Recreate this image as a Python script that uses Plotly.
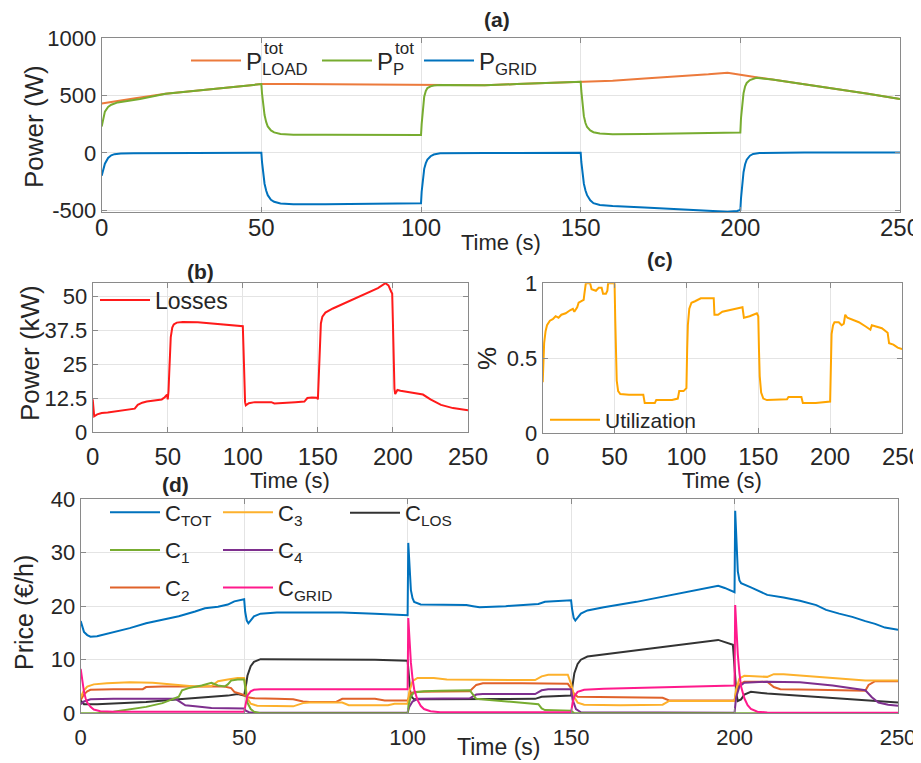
import plotly.graph_objects as go

W, H = 921, 763
OFF = 8  # the page body margin (px) that shifts the figure inside the browser window

# ---------------- data ----------------
X_TICKS = [0, 50, 100, 150, 200, 250]
X_TICK_LABELS = ["0", "50", "100", "150", "200", "250"]

# (a) power balance (W)
P_LOAD = [(0, 430), (2, 440), (5, 455), (10, 475), (20, 515), (30, 545), (40, 572), (50, 600),
          (60, 600), (75, 598), (90, 595), (100, 592), (110, 590), (120, 590), (130, 600),
          (140, 610), (150, 620), (160, 630), (170, 648), (180, 665), (190, 685), (196, 700),
          (200, 685), (205, 660), (210, 640), (220, 600), (230, 560), (240, 515), (250, 470)]
P_P = [(0, 230), (0.5, 300), (1, 360), (2, 400), (3, 420), (5, 440), (8, 452), (12, 470), (20, 515),
       (30, 545), (40, 572), (50, 600), (50.2, 520), (50.6, 400), (51, 330), (51.5, 270), (52, 230),
       (53, 195), (54, 178), (56, 165), (60, 158), (70, 157), (80, 156), (90, 156), (100, 156),
       (100.2, 250), (100.6, 420), (101, 490), (101.5, 540), (102, 565), (103, 580), (104, 588),
       (106, 592), (110, 592), (120, 590), (130, 600), (140, 610), (150, 620), (150.2, 540),
       (150.6, 400), (151, 320), (151.5, 260), (152, 225), (153, 195), (154, 180), (156, 168),
       (160, 162), (170, 165), (180, 170), (190, 174), (200, 178), (200.2, 300), (200.6, 450),
       (201, 520), (201.5, 580), (202, 610), (203, 635), (204, 648), (205, 655), (210, 640),
       (220, 600), (230, 560), (240, 515), (250, 470)]
P_GRID = [(0, -200), (0.5, -140), (1, -95), (2, -45), (3, -22), (4, -12), (6, -6), (10, -3), (20, -2),
          (30, -2), (40, -1), (50, 0), (50.2, -80), (50.6, -200), (51, -270), (51.5, -330), (52, -370),
          (53, -410), (54, -428), (56, -443), (60, -450), (70, -450), (80, -448), (90, -445), (100, -440),
          (100.2, -340), (100.6, -200), (101, -140), (101.5, -90), (102, -60), (103, -30), (104, -15),
          (106, -5), (110, -2), (120, -1), (130, -1), (140, 0), (150, 0), (150.2, -80), (150.6, -200),
          (151, -270), (151.5, -330), (152, -370), (153, -415), (154, -440), (156, -455), (160, -465),
          (170, -478), (180, -490), (190, -503), (196, -515), (199, -508), (200, -500), (200.2, -400),
          (200.6, -250), (201, -170), (201.5, -100), (202, -60), (203, -25), (204, -10), (206, -2),
          (210, 0), (220, 2), (230, 3), (240, 2), (250, 2)]

# (b) losses (kW)
LOSSES = [(0, 12), (0.5, 7), (1, 5.8), (3, 6.5), (6, 7), (10, 7.2), (15, 7.6), (20, 8), (25, 8.4),
          (28, 8.6), (30, 10), (33, 10.8), (36, 11.2), (40, 11.5), (43, 11.6), (46, 12), (48, 12.8),
          (49.5, 13.8), (50, 12), (50.5, 15), (51, 22), (51.5, 30), (52, 35), (53, 38.5), (54, 39.6),
          (56, 40.3), (60, 40.5), (70, 40.4), (80, 40), (90, 39.5), (100, 39), (100.5, 30), (101, 18),
          (101.5, 11), (102, 9.8), (104, 10.6), (108, 11), (115, 11), (119, 11), (121, 10.5),
          (125, 10.7), (135, 11), (141, 11.2), (143, 12.5), (146, 12.7), (149.5, 12.6), (150, 12),
          (150.5, 18), (151, 28), (151.5, 36), (152, 40), (153, 42.5), (155, 44), (160, 45.5),
          (170, 48), (180, 50.5), (190, 53), (195, 54.8), (197, 54), (199, 51.5), (199.5, 51),
          (200, 40), (200.5, 25), (201, 16), (201.5, 14), (202, 14.5), (203, 15.5), (205, 15.2),
          (210, 14.8), (220, 13.8), (225, 12), (232, 10), (240, 8.8), (245, 8.3), (250, 8)]

# (c) utilization (-)
UTIL = [(0, 0.34), (0.5, 0.5), (1, 0.6), (2, 0.68), (3, 0.72), (5, 0.75), (7, 0.76), (9, 0.78),
        (11, 0.77), (13, 0.79), (16, 0.8), (19, 0.82), (21, 0.83), (22, 0.81), (24, 0.84), (25, 0.87),
        (27, 0.88), (28.5, 0.89), (29, 0.93), (30, 1.0), (33, 1.0), (34, 0.96), (37, 0.95), (39, 0.97),
        (41, 0.97), (42, 0.93), (44, 0.93), (45, 0.95), (45.5, 1.0), (50, 1.0), (50.5, 0.75), (51, 0.5),
        (51.5, 0.35), (52.5, 0.28), (54, 0.26), (60, 0.255), (70, 0.255), (71, 0.2), (75, 0.2),
        (78, 0.2), (79, 0.22), (90, 0.22), (94, 0.23), (95, 0.28), (98, 0.28), (100, 0.3),
        (100.5, 0.55), (101, 0.72), (102, 0.83), (103.5, 0.87), (106, 0.88), (110, 0.9), (115, 0.9),
        (119, 0.9), (119.5, 0.79), (122, 0.79), (125, 0.81), (130, 0.82), (135, 0.83), (139, 0.84),
        (140, 0.77), (144, 0.78), (149, 0.8), (150, 0.78), (150.5, 0.55), (151, 0.38), (152, 0.27),
        (153.5, 0.23), (156, 0.22), (165, 0.22), (170, 0.225), (171, 0.24), (180, 0.24), (181, 0.2),
        (190, 0.2), (200, 0.21), (200.5, 0.5), (201, 0.66), (202, 0.72), (203, 0.74), (206, 0.74),
        (208, 0.72), (209.5, 0.73), (210.5, 0.79), (212, 0.77), (215, 0.76), (220, 0.74), (225, 0.71),
        (228, 0.69), (229, 0.72), (232, 0.71), (236, 0.7), (240, 0.67), (241, 0.6), (244, 0.59),
        (247, 0.57), (250, 0.56)]

# (d) prices (EUR/h)
C_TOT = [(0, 17.2), (0.5, 16), (1, 15.2), (2, 14.6), (3, 14.3), (5, 14.4), (10, 15.1), (15, 15.9),
         (20, 16.8), (25, 17.4), (30, 18.1), (35, 19), (38, 19.6), (42, 19.9), (45, 20.3), (47, 20.9),
         (49, 21.2), (50, 21.3), (50.3, 19), (50.8, 17.3), (51.3, 16.8), (52, 17.3), (53, 18.1),
         (55, 18.6), (60, 18.8), (70, 18.8), (80, 18.8), (90, 18.6), (100, 18.3), (100.2, 31.8),
         (100.6, 26), (101, 23), (101.5, 21.5), (102, 20.8), (104, 20.3), (110, 20.2), (118, 20.2),
         (120, 20), (122, 19.8), (130, 20), (140, 20.4), (142, 20.8), (150, 21.1), (150.3, 19.5),
         (150.8, 17.8), (151.3, 17.3), (152, 17.8), (153, 18.6), (155, 19.2), (160, 19.8), (170, 20.8),
         (180, 22), (190, 23.2), (195, 23.8), (197, 23.4), (200, 22.6), (200.2, 37.8), (200.6, 30),
         (201, 26.5), (201.5, 24.8), (202, 24.3), (205, 23.5), (210, 22.1), (215, 21.6), (220, 21),
         (225, 20.2), (228, 19.3), (232, 18.6), (236, 18), (240, 17.2), (243, 16.7), (246, 16),
         (250, 15.6)]
C_1 = [(0, 0), (5, 0), (10, 0.3), (15, 0.7), (20, 1.2), (25, 1.9), (28, 2.6), (30, 3.1), (31, 4.3),
       (33, 4.7), (37, 5.2), (40, 5.7), (42, 5.2), (44, 5.0), (45, 5.4), (46, 6.1), (48, 6.3), (50, 6.3),
       (50.5, 4), (51, 2), (52, 0.8), (53, 0.3), (55, 0), (100, 0), (100.3, 1.5), (101, 3.2), (102, 3.9),
       (105, 4.1), (110, 4.2), (119, 4.3), (120, 3.5), (121, 2.7), (125, 2.5), (130, 2.2), (140, 1.7),
       (141, 0.9), (142, 0.6), (150, 0.5), (151, 0), (250, 0)]
C_2 = [(0, 2.5), (1, 3.5), (2, 4.1), (3, 4.4), (10, 4.5), (19, 4.5), (20, 4.9), (25, 5.0), (35, 5.0),
       (44, 5.0), (46, 4.7), (47, 4.0), (49, 3.6), (50, 3.4), (51, 3.0), (53, 2.8), (60, 2.7), (65, 2.6),
       (68, 2.2), (70, 2.1), (78, 2.1), (80, 2.7), (90, 2.7), (93, 2.4), (100, 2.4), (100.5, 3.2),
       (101, 3.8), (103, 4.0), (110, 4.1), (119, 4.1), (121, 5.3), (123, 5.6), (135, 5.6), (149, 5.5),
       (150, 4.7), (151, 3.5), (152, 3.1), (160, 3.0), (170, 2.9), (178, 2.9), (180, 2.4), (190, 2.4),
       (200, 2.4), (200.5, 4), (201.5, 5.4), (203, 5.9), (210, 5.9), (212, 4.9), (214, 4.5), (225, 4.4),
       (240, 4.2), (241, 5.3), (243, 6.0), (250, 6.0)]
C_3 = [(0, 3.0), (1, 4.3), (2, 5.0), (4, 5.4), (8, 5.6), (15, 5.8), (22, 5.7), (26, 5.5), (30, 5.2),
       (35, 5.0), (40, 5.1), (42, 6.0), (45, 6.3), (48, 6.6), (50, 6.6), (50.5, 4.5), (51, 2.8),
       (52, 1.8), (54, 1.4), (65, 1.3), (68, 1.9), (70, 2.0), (80, 2.0), (82, 1.5), (94, 1.5), (96, 1.8),
       (100, 1.8), (100.5, 4), (101.5, 6), (103, 6.6), (108, 6.6), (112, 6.3), (125, 6.2), (139, 6.2),
       (141, 6.9), (143, 7.2), (149, 7.2), (150, 5.5), (151, 3), (152, 2.0), (154, 1.6), (165, 1.5),
       (178, 1.6), (180, 2.3), (190, 2.3), (200, 2.3), (200.5, 4.5), (201.5, 6.5), (203, 7.0),
       (208, 6.8), (210, 6.8), (212, 7.3), (215, 7.3), (225, 6.8), (235, 6.3), (240, 6.1), (250, 6.1)]
C_4 = [(0, 1.7), (1, 2.2), (3, 2.6), (10, 2.7), (29, 2.7), (31, 2.0), (32, 1.5), (35, 1.3), (40, 1.0),
       (50, 0.9), (50.5, 0.5), (51.5, 0.2), (53, 0.1), (100, 0.1), (100.5, 1.2), (101.5, 2.2), (103, 2.7),
       (119, 2.8), (121, 3.5), (123, 3.6), (139, 3.6), (141, 4.3), (143, 4.5), (150, 4.5), (150.5, 2.5),
       (151.5, 0.8), (153, 0.2), (200, 0.1), (200.5, 3), (201.5, 5.0), (203, 5.7), (210, 5.9),
       (220, 5.8), (230, 5.2), (240, 4.3), (242, 3.0), (244, 2.0), (247, 1.6), (250, 1.4)]
C_GRID = [(0, 8.3), (0.5, 6), (1, 4), (1.5, 2.8), (2, 2), (3, 1.2), (4, 0.7), (6, 0.4), (10, 0.3),
          (50, 0.3), (50.5, 2), (51, 3.3), (52, 4.1), (53, 4.4), (55, 4.5), (100, 4.5), (100.2, 17.8),
          (100.6, 13), (101, 9.5), (101.5, 6.5), (102, 4.5), (103, 2.5), (104, 1.4), (105, 0.8),
          (107, 0.4), (110, 0.2), (150, 0.2), (150.5, 2), (151, 3.2), (152, 4.0), (154, 4.4), (160, 4.6),
          (180, 4.9), (200, 5.2), (200.2, 20.2), (200.6, 15), (201, 11), (201.5, 7.5), (202, 5),
          (203, 2.8), (204, 1.5), (205, 0.8), (207, 0.3), (210, 0.15), (250, 0.1)]
C_LOS = [(0, 2.4), (1, 1.7), (5, 1.7), (10, 1.8), (20, 2.1), (30, 2.6), (40, 3.0), (45, 3.3), (48, 3.6),
         (50, 3.3), (50.5, 5), (51, 7), (52, 8.8), (53, 9.6), (55, 10.1), (60, 10.1), (80, 10.1),
         (90, 10), (100, 9.8), (100.3, 7), (100.8, 4), (101.3, 3), (102, 2.6), (105, 2.6), (120, 2.6),
         (139, 2.7), (141, 3.1), (150, 3.3), (150.4, 5), (151, 7.5), (152, 9.2), (153, 10), (155, 10.6),
         (160, 11), (170, 11.8), (180, 12.5), (190, 13.3), (195, 13.7), (199.5, 12.8), (200.2, 7),
         (200.6, 3.5), (201, 2.3), (202, 2.6), (203, 3.5), (205, 4.0), (210, 3.7), (220, 3.3),
         (230, 2.8), (240, 2.4), (250, 2.0)]

# ---------------- helpers ----------------
def xs(pts):
    return [p[0] for p in pts]

def ys(pts):
    return [p[1] for p in pts]

def px(x):
    return (x - OFF) / W

def py(y):
    return 1 - (y - OFF) / H

FONT = "Liberation Sans, Arial, sans-serif"
TXT = "#262626"
BOX = "#8a8a8a"
GRID = "#e4e4e4"
LW = 2

fig = go.Figure()

def add(pts, name, color, xa, ya, legend, rank):
    fig.add_trace(go.Scatter(x=xs(pts), y=ys(pts), mode="lines", name=name,
                             line=dict(color=color, width=LW),
                             xaxis=xa, yaxis=ya, legend=legend, legendgroup=name,
                             legendrank=rank, hoverinfo="skip"))

# (a)
add(P_LOAD, "P<sub>LOAD</sub>", "#EC7A3C", "x", "y", "legend", 1)
add(P_P, "P<sub>P</sub>", "#77AC30", "x", "y", "legend2", 1)
add(P_GRID, "P<sub>GRID</sub>", "#0072BD", "x", "y", "legend3", 1)
# (b)
add(LOSSES, "Losses", "#FF1A1A", "x2", "y2", "legend4", 1)
# (c)
add(UTIL, "Utilization", "#FFA500", "x3", "y3", "legend5", 1)
# (d)
add(C_LOS, "C<sub>LOS</sub>", "#333333", "x4", "y4", "legend8", 1)
add(C_2, "C<sub>2</sub>", "#E0622A", "x4", "y4", "legend6", 3)
add(C_3, "C<sub>3</sub>", "#FDB12C", "x4", "y4", "legend7", 1)
add(C_4, "C<sub>4</sub>", "#7E2F8E", "x4", "y4", "legend7", 2)
add(C_1, "C<sub>1</sub>", "#77AC30", "x4", "y4", "legend6", 2)
add(C_GRID, "C<sub>GRID</sub>", "#FF1A8C", "x4", "y4", "legend7", 3)
add(C_TOT, "C<sub>TOT</sub>", "#0072BD", "x4", "y4", "legend6", 1)

def xaxis(dom, anchor, size, standoff):
    return dict(domain=dom, anchor=anchor, range=[0, 250], tickvals=X_TICKS, ticktext=X_TICK_LABELS,
                showline=True, mirror="ticks", linecolor=BOX, linewidth=1, ticks="inside",
                ticklen=5, tickcolor=BOX, showgrid=True, gridcolor=GRID, gridwidth=1,
                zeroline=False, tickfont=dict(size=size, family=FONT, color=TXT), fixedrange=True,
                automargin=False, ticklabelstandoff=standoff)

def yaxis(dom, anchor, rng, vals, labels, size):
    return dict(domain=dom, anchor=anchor, range=rng, tickvals=vals, ticktext=labels,
                showline=True, mirror="ticks", linecolor=BOX, linewidth=1, ticks="inside",
                ticklen=5, tickcolor=BOX, showgrid=True, gridcolor=GRID, gridwidth=1,
                zeroline=False, tickfont=dict(size=size, family=FONT, color=TXT), fixedrange=True,
                automargin=False)

fig.update_layout(
    width=W, height=H, autosize=False, showlegend=True,
    margin=dict(l=0, r=0, t=0, b=0, pad=0, autoexpand=False),
    paper_bgcolor="white", plot_bgcolor="white",
    xaxis=xaxis([px(101.7), px(900)], "y", 24, -6),
    yaxis=yaxis([py(212), py(38.3)], "x", [-517, 1000], [-500, 0, 500, 1000],
                ["-500", "0", "500", "1000"], 22),
    xaxis2=xaxis([px(92.7), px(468)], "y2", 24, 3),
    yaxis2=yaxis([py(432), py(282.7)], "x2", [0, 55], [0, 12.5, 25, 37.5, 50],
                 ["0", "12.5", "25", "37.5", "50"], 22),
    xaxis3=xaxis([px(542.7), px(902)], "y3", 24, 2),
    yaxis3=yaxis([py(433), py(283.3)], "x3", [0, 1], [0, 0.5, 1], ["0", "0.5", "1"], 22),
    xaxis4=xaxis([px(80.7), px(898)], "y4", 22, 4),
    yaxis4=yaxis([py(713.3), py(499)], "x4", [0, 40], [0, 10, 20, 30, 40],
                 ["0", "10", "20", "30", "40"], 22),
)

def leg(x, y, size, gap=0, order="normal"):
    return dict(x=px(x), y=py(y), xanchor="left", yanchor="middle", bgcolor="rgba(0,0,0,0)",
                borderwidth=0, orientation="v", font=dict(size=size, family=FONT, color=TXT),
                itemwidth=50, tracegroupgap=gap, traceorder=order)

fig.update_layout(
    legend=leg(186, 61, 24),
    legend2=leg(317, 61, 24),
    legend3=leg(419, 61, 24),
    legend4=leg(95, 300, 23),
    legend5=leg(545, 420, 21),
    legend6=leg(105, 550, 22, 6, "grouped"),
    legend7=leg(218, 550, 22, 6, "grouped"),
    legend8=leg(345, 513, 22),
)

ann = []
def text(x, y, s, size, bold=False, angle=0, anchor="center"):
    ann.append(dict(x=px(x), y=py(y), xref="paper", yref="paper", text=("<b>%s</b>" % s) if bold else s,
                    showarrow=False, xanchor=anchor, yanchor="middle", textangle=angle,
                    font=dict(size=size, family=FONT, color=TXT)))

# superscripts of the stacked legend labels P^tot
text(262, 49, "tot", 17, anchor="left")
text(393, 49, "tot", 17, anchor="left")

text(497, 19, "(a)", 21, bold=True)
text(200, 271, "(b)", 21, bold=True)
text(660, 259, "(c)", 21, bold=True)
text(175, 485, "(d)", 21, bold=True)
text(501, 242, "Time (s)", 22)
text(290, 480, "Time (s)", 22)
text(722, 480, "Time (s)", 22)
text(498, 747, "Time (s)", 23)
text(34, 127, "Power (W)", 26, angle=-90)
text(30, 353, "Power (kW)", 26, angle=-90)
text(487, 359, "%", 26, angle=-90)
text(24, 613, "Price (€/h)", 25, angle=-90)
fig.update_layout(annotations=ann)

fig.write_html("out.html")
